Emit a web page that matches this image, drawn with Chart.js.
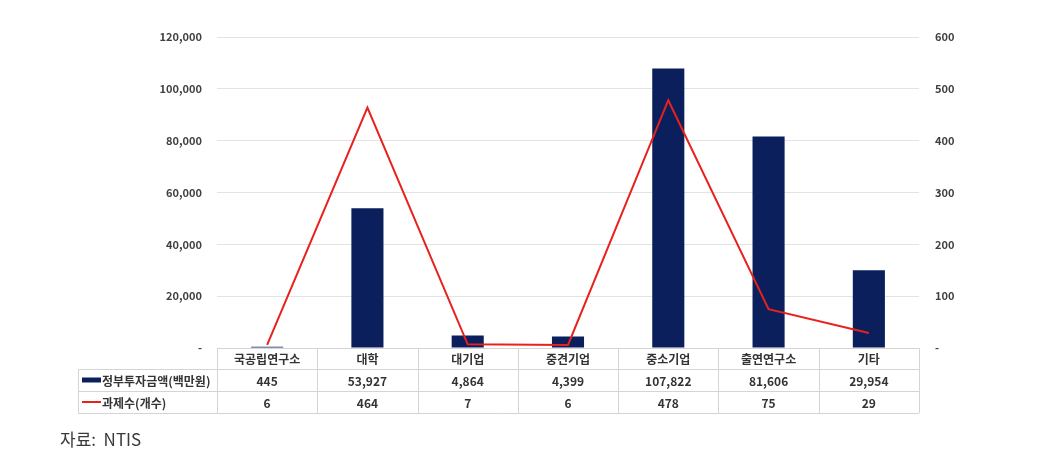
<!DOCTYPE html>
<html>
<head>
<meta charset="utf-8">
<script src="https://cdn.jsdelivr.net/npm/chart.js@4"></script>
<style>
	html, body { margin: 0; padding: 0; background: #fff; }
	#wrap { position: relative; width: 1040px; height: 456px; }
	#source { position: absolute; left: 60px; top: 428px; font: 17px "Noto Sans CJK KR", sans-serif; line-height: 22px; color: #3a3a3a; white-space: pre; }
</style>
</head>
<body>
<div id="wrap">
	<canvas id="chart" width="1040" height="456"></canvas>
	<div id="source">자료:  NTIS</div>
</div>
<script>
const categories = ['국공립연구소', '대학', '대기업', '중견기업', '중소기업', '출연연구소', '기타'];
const investment = [445, 53927, 4864, 4399, 107822, 81606, 29954];
const projects = [6, 464, 7, 6, 478, 75, 29];
const seriesNames = ['정부투자금액(백만원)', '과제수(개수)'];

const NAVY = '#0b1f5c';
const RED = '#e8211d';
const FONT = '"Noto Sans CJK KR", sans-serif';

const fmt = (v) => (v === 0 ? '-' : v.toLocaleString('en-US'));

// Data table under the plot, lined up with the x scale
const dataTable = {
	id: 'dataTable',
	afterDraw(chart) {
		const ctx = chart.ctx;
		const x = chart.scales.x;
		const top = chart.chartArea.bottom;
		const half = (x.getPixelForValue(1) - x.getPixelForValue(0)) / 2;
		const colLeft = x.getPixelForValue(0) - half;
		const colRight = x.getPixelForValue(categories.length - 1) + half;
		const legendLeft = 78;
		const rows = [top, top + 21, top + 43, top + 65];

		ctx.save();
		ctx.strokeStyle = '#d4d4d4';
		ctx.lineWidth = 1;
		ctx.beginPath();
		ctx.moveTo(colLeft, rows[0] + 0.5);
		ctx.lineTo(colRight, rows[0] + 0.5);
		for (let r = 1; r < rows.length; r++) {
			ctx.moveTo(legendLeft, rows[r] + 0.5);
			ctx.lineTo(colRight, rows[r] + 0.5);
		}
		ctx.moveTo(legendLeft + 0.5, rows[1]);
		ctx.lineTo(legendLeft + 0.5, rows[3]);
		for (let i = 0; i <= categories.length; i++) {
			const xx = Math.round(colLeft + i * half * 2) + 0.5;
			ctx.moveTo(xx, rows[0]);
			ctx.lineTo(xx, rows[3]);
		}
		ctx.stroke();

		ctx.fillStyle = '#333';
		ctx.textAlign = 'center';
		ctx.textBaseline = 'middle';
		ctx.font = 'bold 12px ' + FONT;
		categories.forEach((c, i) => {
			const cx = x.getPixelForValue(i);
			ctx.fillText(c, cx, (rows[0] + rows[1]) / 2 + 1);
			ctx.fillText(investment[i].toLocaleString('en-US'), cx, (rows[1] + rows[2]) / 2 + 1);
			ctx.fillText(projects[i].toLocaleString('en-US'), cx, (rows[2] + rows[3]) / 2 + 1);
		});

		// legend keys
		const y1 = (rows[1] + rows[2]) / 2;
		const y2 = (rows[2] + rows[3]) / 2;
		ctx.fillStyle = NAVY;
		ctx.fillRect(82, y1 - 2.5, 19, 5);
		ctx.strokeStyle = RED;
		ctx.lineWidth = 2;
		ctx.beginPath();
		ctx.moveTo(82, y2);
		ctx.lineTo(101, y2);
		ctx.stroke();
		ctx.fillStyle = '#333';
		ctx.textAlign = 'left';
		ctx.fillText(seriesNames[0], 102, y1 + 1);
		ctx.fillText(seriesNames[1], 102, y2 + 1);
		ctx.restore();
	}
};

const ctx = document.getElementById('chart').getContext('2d');
new Chart(ctx, {
	type: 'bar',
	data: {
		labels: categories,
		datasets: [
			{
				type: 'line',
				label: seriesNames[1],
				data: projects,
				yAxisID: 'y1',
				borderColor: RED,
				borderWidth: 2,
				pointRadius: 0,
				tension: 0,
				order: 0,
			},
			{
				label: seriesNames[0],
				data: investment,
				yAxisID: 'y',
				backgroundColor: NAVY,
				barPercentage: 0.32,
				categoryPercentage: 1,
				order: 1,
			},
		],
	},
	options: {
		responsive: false,
		animation: false,
		layout: { padding: { top: 37, bottom: 108, left: 0, right: 0 } },
		plugins: { legend: { display: false }, tooltip: { enabled: false } },
		scales: {
			x: { display: false },
			y: {
				position: 'left',
				min: 0,
				max: 120000,
				afterFit: (s) => { s.width = 217; },
				ticks: {
					stepSize: 20000,
					padding: 15,
					color: '#404040',
					font: { family: FONT, size: 11, weight: 'bold' },
					callback: (v) => fmt(v),
				},
				grid: { color: '#e3e3e3', drawTicks: false },
				border: { display: false },
			},
			y1: {
				position: 'right',
				min: 0,
				max: 600,
				afterFit: (s) => { s.width = 121; },
				ticks: {
					stepSize: 100,
					padding: 16,
					color: '#404040',
					font: { family: FONT, size: 11, weight: 'bold' },
					callback: (v) => fmt(v),
				},
				grid: { drawOnChartArea: false, drawTicks: false },
				border: { display: false },
			},
		},
	},
	plugins: [dataTable],
});
</script>
</body>
</html>
